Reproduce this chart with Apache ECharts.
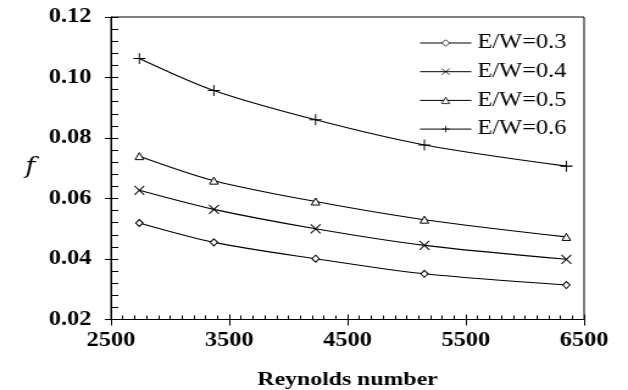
<!DOCTYPE html>
<html>
<head>
<meta charset="utf-8">
<script src="https://cdn.jsdelivr.net/npm/echarts@6/dist/echarts.min.js"></script>
<style>
  html, body { margin: 0; padding: 0; background: #fff; overflow: hidden; }
  /* the figure is laid out narrower and widened horizontally */
  #chart { width: 515px; height: 390px; transform: scaleX(1.2194); transform-origin: 0 0; }
</style>
</head>
<body>
<div id="chart"></div>
<script>
// Reynolds number at each measured point
const reynolds = [2740, 3370, 4230, 5150, 6350];

// friction factor f for each E/W ratio
const fEW03 = [0.0519, 0.0455, 0.0401, 0.0351, 0.0314];
const fEW04 = [0.0627, 0.0564, 0.0500, 0.0445, 0.0399];
const fEW05 = [0.0740, 0.0659, 0.0590, 0.0530, 0.0473];
const fEW06 = [0.1063, 0.0957, 0.0860, 0.0777, 0.0707];

const seriesNames = ['E/W=0.3', 'E/W=0.4', 'E/W=0.5', 'E/W=0.6'];
const yTicks = [0.02, 0.04, 0.06, 0.08, 0.10, 0.12];
const xTicks = [2500, 3500, 4500, 5500, 6500];

const serif = '"Liberation Serif", "Times New Roman", serif';

const markers = [
  { symbol: 'diamond', size: [6, 7] },
  { symbol: 'path://M0,0L10,10M10,0L0,10', size: [8, 9] },
  { symbol: 'triangle', size: [7, 7] },
  { symbol: 'path://M5,0L5,10M0,5L10,5', size: [10, 11] }
];
const values = [fEW03, fEW04, fEW05, fEW06];

const series = values.map((vals, i) => ({
  name: seriesNames[i],
  type: 'line',
  xAxisIndex: 0,
  yAxisIndex: 0,
  smooth: 0.3,
  data: reynolds.map((r, k) => [r, vals[k]]),
  symbol: markers[i].symbol,
  symbolSize: markers[i].size,
  showAllSymbol: true,
  lineStyle: { color: '#000', width: 1.1 },
  itemStyle: { color: '#fff', borderColor: '#000', borderWidth: 1 },
  emphasis: { disabled: true }
}));

const xBase = {
  type: 'value',
  min: xTicks[0],
  max: xTicks[xTicks.length - 1],
  interval: 1000,
  position: 'bottom',
  offset: 0,
  splitLine: { show: false }
};
const yBase = {
  type: 'value',
  min: yTicks[0],
  max: yTicks[yTicks.length - 1],
  interval: 0.02,
  position: 'left',
  offset: 0,
  splitLine: { show: false }
};

const chart = echarts.init(document.getElementById('chart'));
chart.setOption({
  animation: false,
  backgroundColor: '#fff',
  grid: {
    left: 91, right: 36, top: 17, bottom: 70.5,
    outerBoundsMode: 'none',
    containLabel: false,
    show: true, borderColor: '#000', borderWidth: 1, backgroundColor: 'transparent'
  },
  legend: {
    orient: 'vertical',
    left: 344,
    top: 33,
    padding: 0,
    itemWidth: 42,
    itemHeight: 8,
    itemGap: 8.7,
    data: seriesNames,
    lineStyle: { width: 1, color: '#000' },
    itemStyle: { color: '#fff', borderColor: '#000', borderWidth: 0.8 },
    textStyle: { fontFamily: serif, fontSize: 20, color: '#000', padding: [0, 0, 0, 0] }
  },
  xAxis: [
    Object.assign({}, xBase, {
      name: 'Reynolds number',
      nameLocation: 'middle',
      nameGap: 50,
      nameTextStyle: { fontFamily: serif, fontSize: 19.5, fontWeight: 'bold', color: '#000' },
      axisLine: { show: true, lineStyle: { color: '#000', width: 1 } },
      axisTick: { show: true, inside: true, length: 5, lineStyle: { color: '#000' } },
      minorTick: { show: true, splitNumber: 10, length: 4, lineStyle: { color: '#000' } },
      axisLabel: {
        margin: 11, fontFamily: serif, fontSize: 20, fontWeight: 'bold', color: '#000',
        formatter: v => String(v)
      }
    }),
    Object.assign({}, xBase, {
      axisLine: { show: false },
      axisTick: { show: true, inside: false, length: 6, lineStyle: { color: '#000' } },
      axisLabel: { show: false }
    })
  ],
  yAxis: [
    Object.assign({}, yBase, {
      name: 'f',
      nameLocation: 'middle',
      nameRotate: 0,
      nameGap: 62,
      nameTextStyle: {
        fontFamily: '"DejaVu Serif", "Liberation Serif", serif',
        fontSize: 22, fontStyle: 'italic', fontWeight: 'normal', color: '#000',
        verticalAlign: 'top', padding: [-12, 0, 0, 0]
      },
      axisLine: { show: true, lineStyle: { color: '#000', width: 1 } },
      axisTick: { show: true, inside: true, length: 6, lineStyle: { color: '#000' } },
      minorTick: { show: true, splitNumber: 5, length: 6, lineStyle: { color: '#000' } },
      axisLabel: {
        margin: 16, fontFamily: serif, fontSize: 20, fontWeight: 'bold', color: '#000',
        formatter: v => v.toFixed(2)
      }
    }),
    Object.assign({}, yBase, {
      axisLine: { show: false },
      axisTick: { show: true, inside: false, length: 5, lineStyle: { color: '#000' } },
      axisLabel: { show: false }
    })
  ],
  series: series
});
</script>
</body>
</html>
